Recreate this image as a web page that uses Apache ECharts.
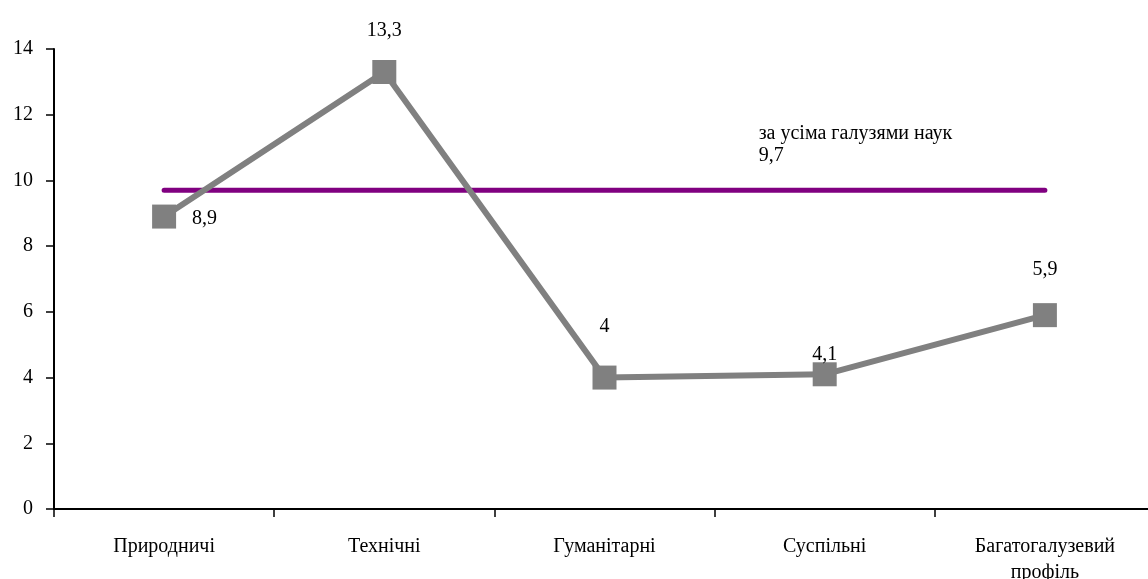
<!DOCTYPE html>
<html>
<head>
<meta charset="utf-8">
<script src="https://cdn.jsdelivr.net/npm/echarts@6/dist/echarts.min.js"></script>
<style>
  html, body { margin: 0; padding: 0; background: #fff; }
  #chart { width: 1148px; height: 579px; }
</style>
</head>
<body>
<div id="chart"></div>
<script>
var categories = ["Природничі", "Технічні", "Гуманітарні", "Суспільні", "Багатогалузевий\nпрофіль"];
var values = [8.9, 13.3, 4, 4.1, 5.9];
var averageValue = 9.7;
var averageName = "за усіма галузями наук";

function fmt(v) {
  return String(v).replace(".", ",");
}

// label placement per point, as in the picture
var labelPos = [
  { position: "right", offset: [11, 2] },
  { position: "top", offset: [0, -14] },
  { position: "top", offset: [0, -24] },
  { position: "top", offset: [0, 7] },
  { position: "top", offset: [0, -18] }
];

var chart = echarts.init(document.getElementById("chart"));
var option = {
  backgroundColor: "#ffffff",
  animation: false,
  grid: {
    left: 54,
    right: -7,
    top: 49,
    bottom: 70,
    containLabel: false,
    outerBoundsMode: "none"
  },
  xAxis: {
    type: "category",
    data: categories,
    boundaryGap: true,
    axisLine: { lineStyle: { color: "#000", width: 2 } },
    axisTick: { show: true, length: 8, lineStyle: { color: "#000", width: 1.5 } },
    axisLabel: {
      color: "#000",
      fontFamily: "Liberation Serif",
      fontSize: 20,
      margin: 25,
      lineHeight: 26,
      interval: 0
    }
  },
  yAxis: {
    type: "value",
    min: 0,
    max: 14,
    interval: 2,
    splitLine: { show: false },
    axisLine: { show: true, lineStyle: { color: "#000", width: 2 } },
    axisTick: { show: true, length: 8, lineStyle: { color: "#000", width: 1.5 } },
    axisLabel: {
      color: "#000",
      fontFamily: "Liberation Serif",
      fontSize: 20,
      margin: 21
    }
  },
  series: [
    {
      name: averageName,
      type: "line",
      data: categories.map(function () { return averageValue; }),
      symbol: "none",
      lineStyle: { color: "#800080", width: 5, cap: "round" },
      z: 1,
      label: { show: false },
      markPoint: {
        symbol: "rect",
        symbolSize: 1,
        itemStyle: { color: "transparent" },
        data: [{ coord: [3, averageValue] }],
        label: {
          show: true,
          position: "inside",
          align: "left",
          offset: [-66, -46],
          color: "#000",
          fontFamily: "Liberation Serif",
          fontSize: 20,
          lineHeight: 22,
          formatter: averageName + "\n" + fmt(averageValue)
        }
      }
    },
    {
      name: "values",
      type: "line",
      data: values.map(function (v, i) {
        return {
          value: v,
          label: {
            show: true,
            position: labelPos[i].position,
            offset: labelPos[i].offset
          }
        };
      }),
      symbol: "rect",
      symbolSize: 24,
      itemStyle: { color: "#808080" },
      lineStyle: { color: "#808080", width: 6 },
      z: 2,
      label: {
        color: "#000",
        fontFamily: "Liberation Serif",
        fontSize: 20,
        formatter: function (p) { return fmt(p.value); }
      }
    }
  ]
};
chart.setOption(option);
</script>
</body>
</html>
